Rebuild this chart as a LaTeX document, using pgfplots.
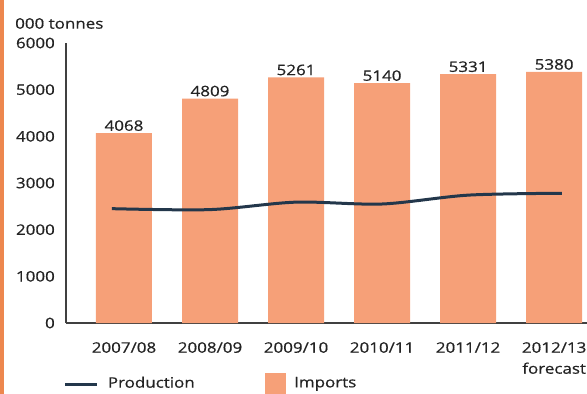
\documentclass[border=0pt]{standalone}
\usepackage{pgfplots}
\pgfplotsset{compat=1.18}
\usepackage{fontspec}
\setmainfont{Open Sans}[FakeStretch=1.17, FakeBold=0.6]
\definecolor{salmon}{RGB}{246,160,120}
\definecolor{navy}{RGB}{35,55,75}
\definecolor{edge}{RGB}{237,135,78}
\definecolor{txt}{RGB}{35,35,35}
\begin{document}
\begin{tikzpicture}[x=1pt,y=1pt]
\useasboundingbox (0,0) rectangle (587,394);
\fill[edge] (0,0) rectangle (4,394);
\begin{axis}[
  at={(66pt,71pt)}, anchor=south west,
  scale only axis, width=526pt, height=280pt,
  xmin=-0.674, xmax=5.44, ymin=0, ymax=6000,
  axis lines*=left,
  axis line style={draw=black!75, line width=1.2pt, -},
  ytick={0,1000,...,6000}, xtick={0,...,5},
  xticklabels={2007/08,2008/09,2009/10,2010/11,2011/12,{2012/13\\forecast}},
  major tick length=0pt,
  tick label style={font=\fontsize{14.5}{21}\selectfont, text=txt},
  xticklabel style={align=center, inner sep=0pt, anchor=north, yshift=-19pt},
  yticklabel style={inner sep=0pt, anchor=east, xshift=-11pt},
  /pgf/number format/assume math mode=true,
  scaled y ticks=false,
  /pgf/number format/set thousands separator={},
  ylabel={000 tonnes},
  every axis y label/.style={at={(rel axis cs:0,1)}, anchor=south west, inner sep=0pt, xshift=-51pt, yshift=14pt, font=\fontsize{14.5}{17}\selectfont, text=txt},
  legend columns=2,
  legend style={at={(rel axis cs:-0.004,-0.214)}, anchor=west, draw=none, fill=none, inner sep=0pt, outer sep=0pt,
    font=\fontsize{14.5}{17}\selectfont, text=txt,
    nodes={inner sep=0pt},
    /tikz/every odd column/.append style={column sep=9pt},
    /tikz/every even column/.append style={column sep=70pt}},
  clip=false,
]
\addlegendimage{legend image code/.code={\draw[navy, line width=3pt] (0pt,-2pt) -- (32pt,-2pt);}}
\addlegendentry{Production}
\addlegendimage{legend image code/.code={\fill[salmon] (0pt,-10pt) rectangle (20pt,10pt);}}
\addlegendentry{Imports}
\addplot[ybar, bar width=56pt, fill=salmon, draw=none, forget plot,
  nodes near coords,
  nodes near coords style={font=\fontsize{14.5}{17}\selectfont, text=txt, anchor=south, inner sep=2pt},
  point meta=y]
  coordinates {(0,4068) (1,4809) (2,5261) (3,5140) (4,5331) (5,5380)};
\addplot[navy, line width=3pt, smooth, tension=0.5, no marks, forget plot]
  coordinates {(-0.14,2450) (1,2430) (2,2590) (3,2550) (4,2740) (5.09,2780)};
\end{axis}
\end{tikzpicture}
\end{document}
